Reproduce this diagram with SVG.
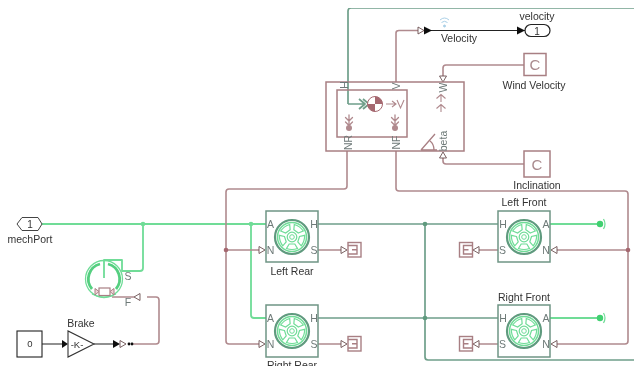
<svg xmlns="http://www.w3.org/2000/svg" xmlns:xlink="http://www.w3.org/1999/xlink" width="634" height="366" viewBox="0 0 634 366">
<style>
text{font-family:"Liberation Sans",Arial,sans-serif;font-size:10.5px;fill:#333;text-anchor:middle}
.port{font-size:10.5px;fill:#6e7a78}
.w{fill:none;stroke-linejoin:round}
.red{stroke:#b08a8e;stroke-width:1.6}
.dg{stroke:#6f9f8a;stroke-width:1.7}
.lg{stroke:#6fdc97;stroke-width:1.8}
.k{stroke:#222;stroke-width:1.1}
.box{fill:#fff;stroke:#6f9585;stroke-width:1.5}
.rbox{fill:none;stroke:#a87f83;stroke-width:1.5}
.open{fill:#fff;stroke:#6b4f50;stroke-width:.9}
.fill{fill:#111}
</style>
<defs>
<filter id="soft" x="0" y="0" width="1" height="1"><feGaussianBlur stdDeviation="0.35"/></filter>
<path id="win" d="M-2.800 7L-5.500 11.500Q0 13.500 5.500 11.500L2.800 7Z" fill="none" stroke="#6fdc97" stroke-width="1.200"/>
<g id="wheel">
<circle r="17" fill="#fff" stroke="#5f9a7e" stroke-width="2.200"/>
<circle r="14.500" fill="none" stroke="#6fdc97" stroke-width="1.500"/>
<circle r="4.800" fill="none" stroke="#6fdc97" stroke-width="1.200"/>
<circle r="2.300" fill="none" stroke="#6fdc97" stroke-width="1"/>
<use xlink:href="#win"/>
<use xlink:href="#win" transform="rotate(72)"/>
<use xlink:href="#win" transform="rotate(144)"/>
<use xlink:href="#win" transform="rotate(216)"/>
<use xlink:href="#win" transform="rotate(288)"/>
</g>
<g id="sink" fill="none" stroke="#a87f83" stroke-width="1.400">
<rect x="0" y="0" width="13" height="14.500"/>
<path d="M13 3H4V11.500H13M4 7.200H9"/>
</g>
<g id="cprint" fill="none" stroke="#b08a8e" stroke-width="1.300" stroke-linecap="round">
<path d="M0 0V12M-3.500 2.500L0 6 3.500 2.500M-3.500 7L0 10.500 3.500 7"/>
<circle cx="0" cy="13" r="3" fill="#b08a8e" stroke="none"/>
</g>
<path id="ol" d="M0-3.500L0 3.500-6 0Z"/>
<path id="or" d="M0-3.500L0 3.500 6 0Z"/>
</defs>
<rect width="634" height="366" fill="#fff"/>
<g filter="url(#soft)">
<g id="connectors">
<path class="w dg" d="M348 104V11Q348 8 351 8H634"/>
<path class="w dg" d="M318 224H498M318 318H498M425 224V357Q425 360 428 360H634"/>
<path class="w lg" d="M42 224H266M251 224V315Q251 318 254 318H266M143 224V268Q143 271 140 271H122V260H104V278"/>
<path class="w lg" d="M550 224H600M550 318H600"/>
<path class="w red" d="M396 82V33Q396 30.500 399 30.500H418"/>
<path class="w k" d="M430 30.500H526"/>
<path class="w red" d="M524 65H446Q443 65 443 68V76"/>
<path class="w red" d="M524 164H446Q443 164 443 161V158"/>
<path class="w red" d="M347 151V186Q347 189 344 189H229Q226 189 226 192V341Q226 344 229 344H259M226 250H259"/>
<path class="w red" d="M396 151V188Q396 191 399 191H625Q628 191 628 194V341Q628 344 625 344H557M628 250H557"/>
<path class="w red" d="M318 250H341M318 344H341M498 250H479M498 344H479"/>
<path class="w red" d="M112 297H134M147 297H156Q159 297 159 300V341Q159 344 156 344H132"/>
<path class="w k" d="M42 344H62M94 344H114"/>
<g fill="#6fdc97"><circle cx="143" cy="224" r="2.300"/><circle cx="251" cy="224" r="2.300"/></g>
<g fill="#5f9a7e"><circle cx="425" cy="224" r="2.300"/><circle cx="425" cy="318" r="2.300"/></g>
<g fill="#a5676f"><circle cx="226" cy="250" r="2.300"/><circle cx="628" cy="250" r="2.300"/></g>
<use xlink:href="#or" x="418" y="30.500" class="open"/>
<path class="fill" d="M424 26.500L424 34.500 432 30.500ZM517 26.500L517 34.500 525 30.500ZM62 340L62 348 68 344ZM113 340L113 348 120 344Z"/>
<use xlink:href="#or" x="120" y="344" class="open"/>
<circle cx="129" cy="344" r="1.400" fill="#111"/><circle cx="132" cy="344" r="1.400" fill="#111"/>
<use xlink:href="#ol" x="140" y="297" class="open"/>
<path class="open" d="M439.500 76H446.500L443 82ZM439.500 158H446.500L443 152Z"/>
<use xlink:href="#or" x="259" y="250" class="open"/><use xlink:href="#or" x="259" y="344" class="open"/>
<use xlink:href="#or" x="341" y="250" class="open"/><use xlink:href="#or" x="341" y="344" class="open"/>
<use xlink:href="#ol" x="479" y="250" class="open"/><use xlink:href="#ol" x="479" y="344" class="open"/>
<use xlink:href="#ol" x="557" y="250" class="open"/><use xlink:href="#ol" x="557" y="344" class="open"/>
</g>
<g id="mechPort">
<path d="M17 224L22 217.500H38L42 224 38 230.500H22Z" fill="#fff" stroke="#444" stroke-width="1"/>
<text x="30" y="228" style="font-size:10px">1</text>
<text x="30" y="243">mechPort</text>
</g>
<g id="constant0">
<rect x="17" y="331" width="25" height="26" fill="#fff" stroke="#222" stroke-width="1.100"/>
<text x="30" y="347" style="font-size:9.500px">0</text>
</g>
<g id="brakeGain">
<path d="M68 331V357L94 344Z" fill="#fff" stroke="#333" stroke-width="1.100"/>
<text x="77" y="348" style="font-size:9.500px">-K-</text>
<text x="81" y="327">Brake</text>
</g>
<g id="brakeDisc">
<circle cx="104" cy="279" r="18.500" fill="none" stroke="#6fdc97" stroke-width="1.300"/>
<path d="M92 289A15.500 15.500 0 0 1 100 264M108 264A15.500 15.500 0 0 1 116 289" fill="none" stroke="#55cf80" stroke-width="2.800"/>
<path d="M92 294Q104 300 116 294" fill="none" stroke="#6fdc97" stroke-width="1.200"/>
<rect x="99" y="288" width="11" height="7.500" fill="#fff" stroke="#a87f83" stroke-width="1.200"/>
<path d="M99 291.500L95 288.500V295ZM110 291.500L114 288.500V295Z" fill="#f0d4d6" stroke="#a87f83"/>
<text class="port" x="128" y="280">S</text>
<text class="port" x="128" y="306">F</text>
</g>
<g id="vehicleBody">
<rect class="rbox" x="326" y="82" width="138" height="69"/>
<rect class="rbox" x="337" y="90" width="70" height="47"/>
<path class="w dg" d="M348 104H365M359 99L365 104 359 109M363 99L369 104 363 109"/>
<circle cx="375" cy="104" r="7.500" fill="#fff" stroke="#a5676f"/>
<path d="M375 104V96.500A7.500 7.500 0 0 1 382.500 104ZM375 104V111.500A7.500 7.500 0 0 1 367.500 104Z" fill="#a5676f"/>
<path d="M386 104H396M392 101L396 104 392 107" fill="none" stroke="#b08a8e" stroke-width="1.100"/>
<path d="M397 100L400.500 108 404 100" fill="none" stroke="#b08a8e" stroke-width="1.100"/>
<use xlink:href="#cprint" x="349" y="115"/>
<use xlink:href="#cprint" x="395" y="115"/>
<path d="M441 102V94.500M436.500 98.500L441 94.500 445.500 98.500M441 112V104.500M436.500 108.500L441 104.500 445.500 108.500" fill="none" stroke="#b08a8e" stroke-width="1.100"/>
<path d="M421 150L435 134M421 150H437M430 141Q434 144 434 150" fill="none" stroke="#a87f83" stroke-width="1.300"/>
<text class="port" transform="translate(347.500,85) rotate(-90)">H</text>
<text class="port" transform="translate(400,86) rotate(-90)">V</text>
<text class="port" transform="translate(447,87.500) rotate(-90)">W</text>
<text class="port" transform="translate(352,142.500) rotate(-90)">NR</text>
<text class="port" transform="translate(400,142.500) rotate(-90)">NF</text>
<text class="port" transform="translate(447,141) rotate(-90)">beta</text>
</g>
<g id="velocityLabel">
<g fill="none" stroke="#a9cfe6" stroke-width="1"><path d="M440 20Q444.500 16 449 20M441.500 22.500Q444.500 20 447.500 22.500"/><circle cx="444.500" cy="26" r="1" fill="#a9cfe6"/></g>
<text x="459" y="41.500">Velocity</text>
</g>
<g id="velocityOut">
<rect x="525" y="24.500" width="25" height="12" rx="6" fill="#fff" stroke="#222" stroke-width="1.200"/>
<text x="537" y="34.500" style="font-size:10px">1</text>
<text x="537" y="19.500">velocity</text>
</g>
<g id="windVelocity">
<rect class="rbox" x="524" y="53.500" width="22" height="22" fill="#fff"/>
<text x="535" y="70" style="font-size:15px;fill:#a98a8d">C</text>
<text x="534" y="88.500">Wind Velocity</text>
</g>
<g id="inclination">
<rect class="rbox" x="524" y="151" width="26" height="26"/>
<text x="537" y="169.500" style="font-size:15px;fill:#a98a8d">C</text>
<text x="537" y="188.500">Inclination</text>
</g>
<g id="leftRear">
<rect class="box" x="266" y="211" width="52" height="51"/>
<use xlink:href="#wheel" x="292" y="237"/>
<text class="port" x="270.500" y="228">A</text><text class="port" x="270.500" y="254">N</text>
<text class="port" x="314" y="228">H</text><text class="port" x="314" y="254">S</text>
<text x="292" y="275">Left Rear</text>
</g>
<g id="rightRear">
<rect class="box" x="266" y="305" width="52" height="52"/>
<use xlink:href="#wheel" x="292" y="331"/>
<text class="port" x="270.500" y="322">A</text><text class="port" x="270.500" y="348">N</text>
<text class="port" x="314" y="322">H</text><text class="port" x="314" y="348">S</text>
<text x="292" y="369">Right Rear</text>
</g>
<g id="leftFront">
<rect class="box" x="498" y="211" width="52" height="51"/>
<use xlink:href="#wheel" x="524" y="237"/>
<text class="port" x="503" y="228">H</text><text class="port" x="502.500" y="254">S</text>
<text class="port" x="546" y="228">A</text><text class="port" x="546" y="254">N</text>
<text x="524" y="206">Left Front</text>
</g>
<g id="rightFront">
<rect class="box" x="498" y="305" width="52" height="52"/>
<use xlink:href="#wheel" x="524" y="331"/>
<text class="port" x="503" y="322">H</text><text class="port" x="502.500" y="348">S</text>
<text class="port" x="546" y="322">A</text><text class="port" x="546" y="348">N</text>
<text x="524" y="301">Right Front</text>
</g>
<g id="sinks">
<use xlink:href="#sink" transform="translate(361,242.500) scale(-1,1)"/>
<use xlink:href="#sink" transform="translate(361,336.500) scale(-1,1)"/>
<use xlink:href="#sink" x="459.500" y="242.500"/>
<use xlink:href="#sink" x="459.500" y="336.500"/>
</g>
<g id="termA" fill="#3fd070">
<circle cx="600" cy="224" r="3.200"/><path d="M603.500 219Q606.500 224 603.500 229" fill="none" stroke="#6fdc97" stroke-width="1.200"/>
</g>
<g id="termB" fill="#3fd070">
<circle cx="600" cy="318" r="3.200"/><path d="M603.500 313Q606.500 318 603.500 323" fill="none" stroke="#6fdc97" stroke-width="1.200"/>
</g>
</g>
</svg>
